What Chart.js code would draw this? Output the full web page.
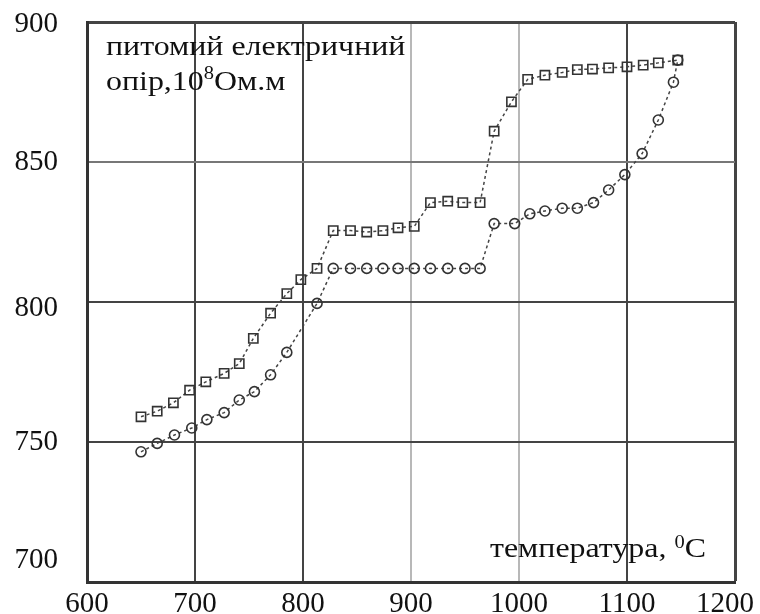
<!DOCTYPE html>
<html>
<head>
<meta charset="utf-8">
<script src="https://cdn.jsdelivr.net/npm/chart.js@4/dist/chart.umd.min.js"></script>
<style>
html,body{margin:0;padding:0;background:#fff;}
#wrap{width:760px;height:614px;}
</style>
</head>
<body>
<div id="wrap"><canvas id="c" width="760" height="614"></canvas></div>
<script>
// Upper branch (square markers)
const tempUp = [650,665,680,695,710,727,741,754,770,785,798,813,828,844,859,874,888,903,918,934,948,964,977,993,1008,1024,1040,1054,1068,1083,1100,1115,1129,1147];
const resUp  = [759,761,764,768.5,771.5,774.5,778,787,796,803,808,812,825.5,825.5,825,825.5,826.5,827,835.5,836,835.5,835.5,861,871.5,879.5,881,882,883,883.2,883.6,884,884.6,885.4,886.4];
// Lower branch (circle markers)
const tempDown = [650,665,681,697,711,727,741,755,770,785,813,828,844,859,874,888,903,918,934,950,964,977,996,1010,1024,1040,1054,1069,1083,1098,1114,1129,1143,1147];
const resDown  = [746.5,749.5,752.5,755,758,760.5,765,768,774,782,799.5,812,812,812,812,812,812,812,812,812,812,828,828,831.5,832.5,833.5,833.5,835.5,840,845.5,853,865,878.5,886.4];
// Axis ticks
const xTicks = [600,700,800,900,1000,1100,1200];
const yTicks = [700,750,800,850,900];
// Texts
const yTitle1 = "питомий електричний";
const yTitle2a = "опір,10";
const yTitle2sup = "8";
const yTitle2b = "Ом.м";
const xTitleA = "температура, ";
const xTitleSup = "0";
const xTitleB = "C";

function pts(xs, ys){ return xs.map((x,i)=>({x:x, y:ys[i]})); }

const FONT = "'Liberation Serif','DejaVu Serif',serif";

function drawRun(ctx, parts, x0, y0, sx){
  ctx.save();
  ctx.translate(x0, y0);
  ctx.scale(sx, 1);
  let x = 0;
  for (const [t, px, dy] of parts){
    ctx.font = px + 'px ' + FONT;
    ctx.fillText(t, x, dy);
    x += ctx.measureText(t).width;
  }
  ctx.restore();
}

const textPlugin = {
  id: 'texts',
  afterDatasetsDraw(chart){
    const ctx = chart.ctx;
    ctx.save();
    ctx.fillStyle = '#111';
    ctx.textBaseline = 'alphabetic';
    ctx.textAlign = 'left';
    const SX = 1.14;
    drawRun(ctx, [[yTitle1, 28, 0]], 106, 55, SX);
    drawRun(ctx, [[yTitle2a, 28, 0], [yTitle2sup, 18, -11], [yTitle2b, 28, 0]], 106, 90, SX);
    drawRun(ctx, [[xTitleA, 28, 0], [xTitleSup, 18, -9], [xTitleB, 28, 0]], 490, 557, SX);
    ctx.restore();
  }
};

// small label nudges, as in the scanned original
function nudgeLabels(scale, fn){
  if (scale._nudged) return;
  scale._nudged = true;
  const orig = scale._computeLabelItems.bind(scale);
  scale._computeLabelItems = function(ca){
    const items = orig(ca);
    items.forEach((it, i)=>{
      const tk = scale.ticks[i];
      if (!tk) return;
      const d = fn(tk.value);
      const t = it.options.translation;
      it.options.translation = [t[0] + d[0], t[1] + d[1]];
    });
    return items;
  };
}

const xGridColor = (c)=>{
  const v = c.tick && c.tick.value;
  if (v === 900 || v === 1000) return '#b8b8b8';
  return '#444';
};
const yGridColor = (c)=>{
  const v = c.tick && c.tick.value;
  if (v === 850) return '#777';
  return '#444';
};

new Chart(document.getElementById('c'), {
  type: 'scatter',
  data: {
    datasets: [
      {
        data: pts(tempUp, resUp),
        showLine: true,
        borderColor: '#444',
        borderWidth: 1.5,
        borderDash: [3,3],
        pointStyle: 'rect',
        pointRadius: 6.5,
        pointBorderWidth: 1.6,
        pointBorderColor: '#333',
        pointBackgroundColor: 'rgba(255,255,255,0)'
      },
      {
        data: pts(tempDown, resDown),
        showLine: true,
        borderColor: '#444',
        borderWidth: 1.5,
        borderDash: [3,3],
        pointStyle: 'circle',
        pointRadius: 5,
        pointBorderWidth: 1.6,
        pointBorderColor: '#333',
        pointBackgroundColor: 'rgba(255,255,255,0)'
      }
    ]
  },
  options: {
    responsive: false,
    animation: false,
    layout: { padding: { top: 22, right: 25, left: 0, bottom: 0 } },
    plugins: { legend: { display: false }, tooltip: { enabled: false } },
    scales: {
      x: {
        type: 'linear',
        min: 600, max: 1200,
        afterBuildTicks(s){ s.ticks = xTicks.map(v=>({value:v})); },
        afterFit(s){
          s.height = 32; s.paddingLeft = 0; s.paddingRight = 0;
          nudgeLabels(s, (v)=> v === 1200 ? [-10, 0] : [0, 0]);
        },
        grid: { color: xGridColor, lineWidth: (c)=> (c.tick && c.tick.value===1200) ? 3 : 2, drawTicks: false },
        border: { display: true, color: '#333', width: 3 },
        ticks: { padding: 5, color: '#111', font: { family: FONT, size: 29 }, maxRotation: 0, autoSkip: false, callback: (v)=> String(v) }
      },
      y: {
        type: 'linear',
        min: 700, max: 900,
        afterBuildTicks(s){ s.ticks = yTicks.map(v=>({value:v})); },
        afterFit(s){
          s.width = 87; s.paddingTop = 0; s.paddingBottom = 0;
          nudgeLabels(s, (v)=> v === 700 ? [0, -22] : v === 800 ? [0, 6] : v === 900 ? [0, 2] : [0, 0]);
        },
        grid: { color: yGridColor, lineWidth: (c)=> (c.tick && c.tick.value===900) ? 3 : 2, drawTicks: false },
        border: { display: true, color: '#333', width: 3 },
        ticks: { padding: 29, color: '#111', font: { family: FONT, size: 29 }, autoSkip: false, callback: (v)=> String(v) }
      }
    }
  },
  plugins: [textPlugin]
});
</script>
</body>
</html>
